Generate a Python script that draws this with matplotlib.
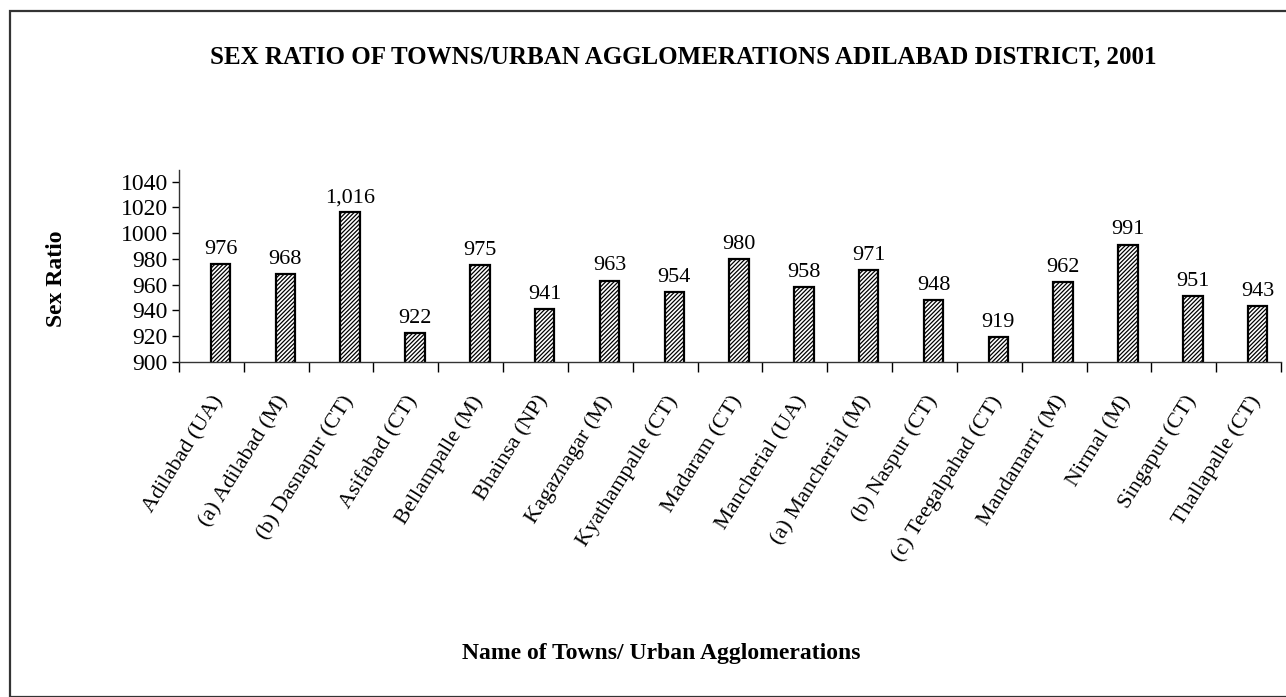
import numpy as np
import matplotlib
matplotlib.use("Agg")
import matplotlib.pyplot as plt
from matplotlib.patches import Rectangle

# Data
towns = [
    "Adilabad (UA)", "(a) Adilabad (M)", "(b) Dasnapur (CT)", "Asifabad (CT)",
    "Bellampalle (M)", "Bhainsa (NP)", "Kagaznagar (M)", "Kyathampalle (CT)",
    "Madaram (CT)", "Mancherial (UA)", "(a) Mancherial (M)", "(b) Naspur (CT)",
    "(c) Teegalpahad (CT)", "Mandamarri (M)", "Nirmal (M)", "Singapur (CT)",
    "Thallapalle (CT)",
]
sex_ratio = [976, 968, 1016, 922, 975, 941, 963, 954, 980, 958, 971, 948,
             919, 962, 991, 951, 943]
y_ticks = [900, 920, 940, 960, 980, 1000, 1020, 1040]

plt.rcParams["font.family"] = ["Liberation Serif", "DejaVu Serif"]
plt.rcParams["hatch.linewidth"] = 0.9

W, H = 1286, 697
fig = plt.figure(figsize=(W / 100, H / 100), dpi=100)

# outer border (right and bottom sides fall outside the picture)
fig.patches.append(Rectangle((10 / W, 0), 1.0, 1 - 11 / H, transform=fig.transFigure,
                             fill=False, edgecolor="#333333", linewidth=1.6, clip_on=False))

ax = fig.add_axes([179 / W, 1 - 361.7 / H, (1281 - 179) / W, (361.7 - 170) / H])

x = np.arange(len(towns))
bars = ax.bar(x + 0.14, sex_ratio, width=0.3, bottom=0,
              facecolor="white", edgecolor="black", hatch="////////", linewidth=1.6)

for xi, v in zip(x, sex_ratio):
    ax.text(xi + 0.14, v + 4, f"{v:,}", ha="center", va="bottom", fontsize=16)

ax.set_xlim(-0.5, len(towns) - 0.5)
ax.set_ylim(900, 1049)
ax.set_yticks(y_ticks)
ax.tick_params(axis="y", labelsize=17, length=5, width=1, direction="out", pad=3)

ax.set_xticks(x)
ax.set_xticklabels(towns, rotation=58, ha="right", rotation_mode="anchor", fontsize=16)
ax.tick_params(axis="x", which="major", length=0, pad=22)
ax.set_xticks(np.arange(len(towns) + 1) - 0.5, minor=True)
ax.tick_params(axis="x", which="minor", length=7, width=1, direction="out")

for side in ["top", "right"]:
    ax.spines[side].set_visible(False)
for side in ["left", "bottom"]:
    ax.spines[side].set_color("#333333")
    ax.spines[side].set_linewidth(1.0)

fig.text(683.5 / W, 1 - 57 / H,
         "SEX RATIO OF TOWNS/URBAN AGGLOMERATIONS ADILABAD DISTRICT, 2001",
         ha="center", va="center", fontsize=18, fontweight="bold")
fig.text(661 / W, 1 - 654 / H, "Name of Towns/ Urban Agglomerations",
         ha="center", va="center", fontsize=17, fontweight="bold")
fig.text(57 / W, 1 - 279 / H, "Sex Ratio", ha="center", va="center",
         rotation=90, fontsize=17, fontweight="bold")

fig.savefig("out.png", dpi=100, facecolor="white")
